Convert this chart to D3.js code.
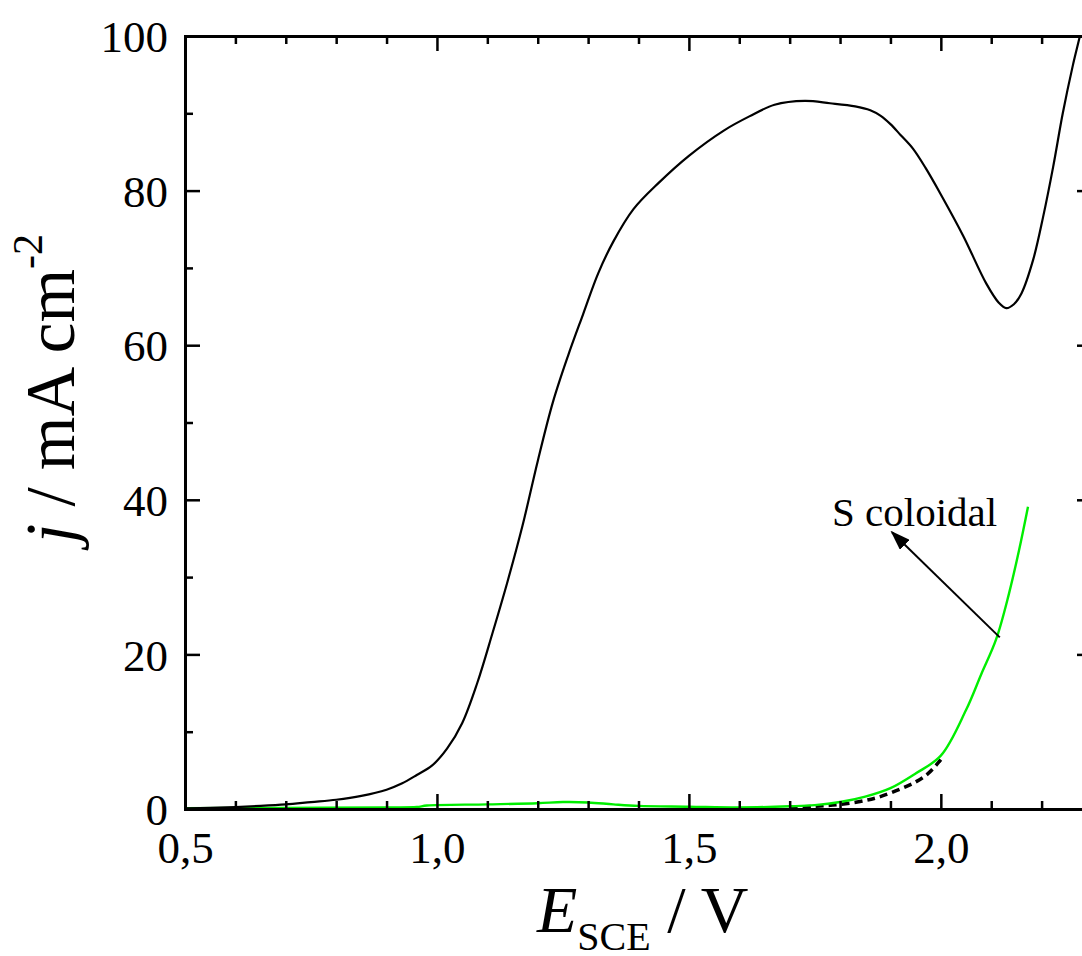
<!DOCTYPE html>
<html>
<head>
<meta charset="utf-8">
<script src="https://cdn.jsdelivr.net/npm/d3@7"></script>
<style>
  body { margin: 0; background: #fff; }
  svg { display: block; }
  svg text { font-family: "Liberation Serif", "Times New Roman", serif; }
</style>
</head>
<body>
<div id="chart"></div>
<script>

// Black curve (full voltammogram)
var blackE = [0.50, 0.55, 0.60, 0.65, 0.70, 0.75, 0.80, 0.85, 0.90, 0.93, 0.96, 0.99, 1.02, 1.05, 1.08, 1.11,
	1.14, 1.17, 1.20, 1.23, 1.26, 1.29, 1.32, 1.35, 1.39, 1.44, 1.50, 1.57, 1.62, 1.67, 1.73, 1.78,
	1.83, 1.86, 1.88, 1.90, 1.92, 1.945, 1.97, 2.00, 2.044, 2.09, 2.115, 2.13, 2.145, 2.16, 2.183, 2.203, 2.223,
	2.242, 2.262, 2.276, 2.29];
var blackJ = [0.1, 0.15, 0.25, 0.4, 0.6, 0.9, 1.2, 1.7, 2.5, 3.3, 4.4, 5.6, 7.8, 11.1, 16.3, 22.7,
	29.4, 36.7, 45.0, 52.6, 58.6, 64.0, 69.3, 73.4, 77.6, 81.0, 84.5, 87.8, 89.6, 91.1, 91.6, 91.3,
	90.9, 90.4, 89.7, 88.6, 87.2, 85.4, 82.9, 79.5, 74.2, 68.0, 65.5, 64.8, 65.3, 66.7, 71.0, 76.6, 83.1,
	90.0, 96.2, 100.0, 104.0];

// Green curve (S coloidal)
var greenE = [0.50, 0.70, 0.90, 0.96, 0.98, 1.10, 1.20, 1.25, 1.30, 1.35, 1.40, 1.50, 1.60, 1.70, 1.75,
	1.80, 1.85, 1.90, 1.95, 2.00, 2.05, 2.08, 2.11, 2.135, 2.155, 2.173];
var greenJ = [0.1, 0.15, 0.2, 0.25, 0.45, 0.6, 0.75, 0.9, 0.85, 0.6, 0.4, 0.3, 0.2, 0.35, 0.5,
	0.9, 1.6, 2.7, 4.6, 6.9, 12.8, 17.4, 22.0, 27.8, 33.4, 39.1];

// Dashed black curve
var dashE = [1.70, 1.75, 1.80, 1.85, 1.88, 1.92, 1.95, 1.975, 2.00];
var dashJ = [0.2, 0.35, 0.6, 1.1, 1.6, 2.6, 3.5, 4.6, 6.4];

// Axis ticks
var xMajor = [0.5, 1.0, 1.5, 2.0];
var xMinor = [0.6, 0.7, 0.8, 0.9, 1.1, 1.2, 1.3, 1.4, 1.6, 1.7, 1.8, 1.9, 2.1, 2.2];
var yMajor = [0, 20, 40, 60, 80, 100];
var yMinor = [10, 30, 50, 70, 90];

// Annotation
var noteText = "S coloidal";
var notePos = [1.784, 36.6];
var arrowFrom = [2.117, 22.2];
var arrowTo = [1.903, 35.8];

var width = 1082, height = 956;
var mLeft = 185, mTop = 36, mRight = 1092, mBottom = 809;
var serif = "Liberation Serif";

var svg = d3.select("#chart").append("svg")
	.attr("width", width).attr("height", height)
	.attr("font-family", serif);

var x = d3.scaleLinear().domain([0.5, 2.3]).range([mLeft, mRight]);
var y = d3.scaleLinear().domain([0, 100]).range([mBottom, mTop]);

svg.append("clipPath").attr("id", "clip")
	.append("rect")
	.attr("x", mLeft).attr("y", mTop)
	.attr("width", mRight - mLeft).attr("height", mBottom - mTop);

var line = d3.line()
	.x(function(d){ return x(d[0]); })
	.y(function(d){ return y(d[1]); })
	.curve(d3.curveCatmullRom.alpha(0.5));

function zip(a, b){ return a.map(function(v, i){ return [v, b[i]]; }); }

var plot = svg.append("g").attr("clip-path", "url(#clip)");

plot.append("path")
	.datum(zip(dashE, dashJ))
	.attr("fill", "none")
	.attr("stroke", "#000")
	.attr("stroke-width", 3.5)
	.attr("stroke-dasharray", "8,5")
	.attr("d", line);

plot.append("path")
	.datum(zip(greenE, greenJ))
	.attr("fill", "none")
	.attr("stroke", "#00ee00")
	.attr("stroke-width", 2.4)
	.attr("d", line);

plot.append("path")
	.datum(zip(blackE, blackJ))
	.attr("fill", "none")
	.attr("stroke", "#000")
	.attr("stroke-width", 2.2)
	.attr("d", line);

// axes, ticks pointing inward
function styleAxis(g){
	g.attr("font-family", serif);
	g.select(".domain").attr("stroke-width", 3).attr("stroke", "#000");
	g.selectAll(".tick line").attr("stroke-width", 2.5).attr("stroke", "#000");
	g.selectAll("text").attr("fill", "#000").attr("font-family", serif).attr("font-size", 45);
}

var fmt = function(d){ return d3.format(".1f")(d).replace(".", ","); };

svg.append("g")
	.attr("transform", "translate(0," + mBottom + ")")
	.call(d3.axisBottom(x).tickValues(xMinor).tickSize(-8).tickFormat(""))
	.call(styleAxis);
var xa = svg.append("g")
	.attr("transform", "translate(0," + mBottom + ")")
	.call(d3.axisBottom(x).tickValues(xMajor).tickSize(-15).tickSizeOuter(0).tickFormat(fmt))
	.call(styleAxis);
xa.selectAll("text").attr("y", 54).attr("dy", null);

svg.append("g")
	.attr("transform", "translate(0," + mTop + ")")
	.call(d3.axisTop(x).tickValues(xMinor).tickSize(-8).tickFormat(""))
	.call(styleAxis);
svg.append("g")
	.attr("transform", "translate(0," + mTop + ")")
	.call(d3.axisTop(x).tickValues(xMajor).tickSize(-15).tickSizeOuter(0).tickFormat(""))
	.call(styleAxis);

svg.append("g")
	.attr("transform", "translate(" + mLeft + ",0)")
	.call(d3.axisLeft(y).tickValues(yMinor).tickSize(-8).tickFormat(""))
	.call(styleAxis);
var ya = svg.append("g")
	.attr("transform", "translate(" + mLeft + ",0)")
	.call(d3.axisLeft(y).tickValues(yMajor).tickSize(-15).tickSizeOuter(0).tickFormat(d3.format("d")))
	.call(styleAxis);
ya.selectAll("text").attr("x", -17).attr("dy", "0.35em");

svg.append("g")
	.attr("transform", "translate(" + mRight + ",0)")
	.call(d3.axisRight(y).tickValues(yMinor).tickSize(-8).tickFormat(""))
	.call(styleAxis);
svg.append("g")
	.attr("transform", "translate(" + mRight + ",0)")
	.call(d3.axisRight(y).tickValues(yMajor).tickSize(-15).tickSizeOuter(0).tickFormat(""))
	.call(styleAxis);

// axis titles
var xt = svg.append("text")
	.attr("x", 537).attr("y", 932)
	.attr("font-family", serif)
	.attr("font-size", 66).attr("fill", "#000");
xt.append("tspan").attr("font-style", "italic").text("E");
xt.append("tspan").attr("font-size", 40).attr("dy", 18).text("SCE");
xt.append("tspan").attr("dy", -18).text(" / V");

var yt = svg.append("text")
	.attr("transform", "translate(74,543) rotate(-90)")
	.attr("font-family", serif)
	.attr("font-size", 69).attr("fill", "#000");
yt.append("tspan").attr("font-style", "italic").text("j");
yt.append("tspan").text(" / mA cm");
yt.append("tspan").attr("font-size", 42).attr("dy", -32).text("-2");

// annotation with arrow
svg.append("defs").append("marker")
	.attr("id", "arrow")
	.attr("markerUnits", "userSpaceOnUse")
	.attr("markerWidth", 20).attr("markerHeight", 14)
	.attr("refX", 18).attr("refY", 7)
	.attr("orient", "auto")
	.append("path")
	.attr("d", "M0,0L20,7L0,14Z")
	.attr("fill", "#000");

svg.append("line")
	.attr("x1", x(arrowFrom[0])).attr("y1", y(arrowFrom[1]))
	.attr("x2", x(arrowTo[0])).attr("y2", y(arrowTo[1]))
	.attr("stroke", "#000").attr("stroke-width", 2)
	.attr("marker-end", "url(#arrow)");

svg.append("text")
	.attr("x", x(notePos[0])).attr("y", y(notePos[1]))
	.attr("font-family", serif)
	.style("font-family", "'Liberation Serif', serif")
	.attr("font-size", 41).attr("fill", "#000")
	.text(noteText);

</script>
</body>
</html>
